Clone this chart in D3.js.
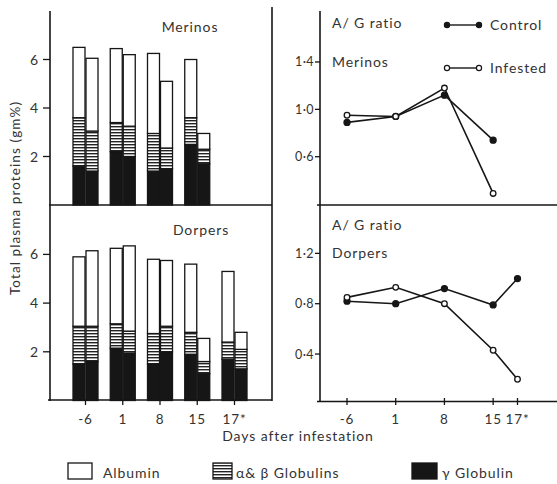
<!DOCTYPE html>
<html lang="en">
<head>
  <meta charset="UTF-8">
  <title>Plasma proteins and A/G ratio</title>
  <script src="https://cdn.jsdelivr.net/npm/d3@7/dist/d3.min.js"></script>
  <style>
    body { margin: 0; background: #fff; }
    text { font-family: Lato, "Open Sans", sans-serif; fill: #333; letter-spacing: 0.9px; }
  </style>
</head>
<body>
<script>
  // days after infestation
  const days = ['-6', '1', '8', '15', '17*'];

  // protein fractions (gm%), control / infested per day
  const merinosControlGamma = [1.6, 2.2, 1.4, 2.5];
  const merinosControlAB = [2.0, 1.2, 1.55, 1.1];
  const merinosControlAlb = [2.9, 3.05, 3.3, 2.4];
  const merinosInfGamma = [1.4, 2.0, 1.5, 1.7];
  const merinosInfAB = [1.65, 1.25, 0.85, 0.6];
  const merinosInfAlb = [3.0, 2.95, 2.75, 0.65];

  const dorpersControlGamma = [1.5, 2.15, 1.5, 1.9, 1.7];
  const dorpersControlAB = [1.55, 1.0, 1.25, 0.9, 0.7];
  const dorpersControlAlb = [2.85, 3.1, 3.05, 2.8, 2.9];
  const dorpersInfGamma = [1.6, 1.95, 2.0, 1.1, 1.3];
  const dorpersInfAB = [1.45, 0.9, 1.05, 0.5, 0.8];
  const dorpersInfAlb = [3.1, 3.5, 2.7, 0.95, 0.7];

  // A/G ratio
  const merinosAGControl = [0.89, 0.94, 1.12, 0.74];
  const merinosAGInfested = [0.95, 0.94, 1.18, 0.29];
  const dorpersAGControl = [0.82, 0.8, 0.92, 0.79, 1.0];
  const dorpersAGInfested = [0.85, 0.93, 0.8, 0.43, 0.2];

  const proteinTicks = [2, 4, 6];
  const agTicksTop = [0.6, 1.0, 1.4];
  const agTicksBottom = [0.4, 0.8, 1.2];

  const ink = '#161616';

  const svg = d3.select('body').append('svg')
    .attr('width', 557)
    .attr('height', 484);

  const defs = svg.append('defs');
  const pat = defs.append('pattern')
    .attr('id', 'hatch')
    .attr('patternUnits', 'userSpaceOnUse')
    .attr('width', 6).attr('height', 3);
  pat.append('rect').attr('width', 6).attr('height', 3).attr('fill', '#fff');
  pat.append('rect').attr('y', 0).attr('width', 6).attr('height', 1.4).attr('fill', '#222');

  // scales
  const xBar = d3.scalePoint().domain(days).range([85.5, 234.5]);
  const yTop = d3.scaleLinear().domain([0, 8]).range([205, 11]);
  const yBot = d3.scaleLinear().domain([0, 8]).range([400.5, 205.7]);

  const slot = i => i < 4 ? i : 3.5; // 17* sits half a step after 15
  const xAG = d3.scaleLinear().domain([0, 3.5]).range([347, 517.5]);
  const yAGTop = d3.scaleLinear().domain([0.2, 1.8]).range([204.1, 14.6]);
  const yAGBot = d3.scaleLinear().domain([0, 1.6]).range([404.4, 203]);

  const fmt = d => d3.format('.1f')(d).replace('.', '·');

  function line(x1, y1, x2, y2, w) {
    svg.append('line')
      .attr('x1', x1).attr('y1', y1).attr('x2', x2).attr('y2', y2)
      .attr('stroke', ink).attr('stroke-width', w || 1.6);
  }

  // frames
  line(50, 11, 50, 401);
  line(272, 7, 272, 401);
  line(49, 205, 272, 205);
  line(48, 400, 272, 400);
  line(320, 11, 320, 402);
  line(317, 205, 557, 205);
  line(317, 401.5, 557, 401.5);

  // y axes of the bar panels
  function leftAxis(y) {
    proteinTicks.forEach(t => {
      line(43, y(t), 50, y(t), 1.3);
      svg.append('text').attr('x', 39).attr('y', y(t) + 5)
        .attr('text-anchor', 'end').attr('font-size', 14).text(t);
    });
  }
  leftAxis(yTop);
  leftAxis(yBot);

  function agAxis(y, ticks) {
    ticks.forEach(t => {
      line(315, y(t), 320, y(t), 1.3);
      svg.append('text').attr('x', 314).attr('y', y(t) + 4.5)
        .attr('text-anchor', 'end').attr('font-size', 12.5)
        .style('letter-spacing', '0.4px').text(fmt(t));
    });
  }
  agAxis(yAGTop, agTicksTop);
  agAxis(yAGBot, agTicksBottom);

  // bottom x ticks
  days.forEach((d, i) => {
    line(xBar(d), 400, xBar(d), 405, 1.3);
    svg.append('text').attr('x', xBar(d)).attr('y', 424)
      .attr('text-anchor', 'middle').attr('font-size', 13.5).text(d);
    line(xAG(slot(i)), 398, xAG(slot(i)), 405, 1.3);
    svg.append('text').attr('x', xAG(slot(i))).attr('y', 424)
      .attr('text-anchor', 'middle').attr('font-size', 13.5).text(d);
  });

  svg.append('text').attr('x', 298).attr('y', 441)
    .attr('text-anchor', 'middle').attr('font-size', 14).text('Days after infestation');

  svg.append('text')
    .attr('transform', 'translate(20,198) rotate(-90)')
    .attr('text-anchor', 'middle').attr('font-size', 13.5)
    .style('letter-spacing', '1.1px')
    .text('Total plasma proteins (gm%)');

  // stacked bars
  const barW = 12;
  function bars(y, gamma, ab, alb, offset) {
    gamma.forEach((g, i) => {
      const x = xBar(days[i]) + offset;
      const segs = [
        { lo: 0, hi: g, fill: ink },
        { lo: g, hi: g + ab[i], fill: 'url(#hatch)' },
        { lo: g + ab[i], hi: g + ab[i] + alb[i], fill: '#fff' }
      ];
      segs.forEach(s => {
        svg.append('rect')
          .attr('x', x).attr('y', y(s.hi))
          .attr('width', barW).attr('height', y(s.lo) - y(s.hi))
          .attr('fill', s.fill).attr('stroke', ink).attr('stroke-width', 1.3);
      });
    });
  }
  bars(yTop, merinosControlGamma, merinosControlAB, merinosControlAlb, -12.5);
  bars(yTop, merinosInfGamma, merinosInfAB, merinosInfAlb, 0.5);
  bars(yBot, dorpersControlGamma, dorpersControlAB, dorpersControlAlb, -12.5);
  bars(yBot, dorpersInfGamma, dorpersInfAB, dorpersInfAlb, 0.5);

  svg.append('text').attr('x', 190).attr('y', 32)
    .attr('text-anchor', 'middle').attr('font-size', 14).text('Merinos');
  svg.append('text').attr('x', 201).attr('y', 235)
    .attr('text-anchor', 'middle').attr('font-size', 14).text('Dorpers');

  // A/G ratio lines
  function series(y, vals, filled) {
    const pts = vals.map((v, i) => [xAG(slot(i)), y(v)]);
    svg.append('path')
      .attr('d', d3.line()(pts))
      .attr('fill', 'none').attr('stroke', ink).attr('stroke-width', 1.6);
    svg.selectAll(null).data(pts).enter().append('circle')
      .attr('cx', p => p[0]).attr('cy', p => p[1])
      .attr('r', filled ? 3 : 2.8)
      .attr('fill', filled ? ink : '#fff')
      .attr('stroke', ink).attr('stroke-width', 1.3);
  }
  series(yAGTop, merinosAGControl, true);
  series(yAGTop, merinosAGInfested, false);
  series(yAGBot, dorpersAGControl, true);
  series(yAGBot, dorpersAGInfested, false);

  svg.append('text').attr('x', 332).attr('y', 28).attr('font-size', 14).text('A/ G ratio');
  svg.append('text').attr('x', 332).attr('y', 67).attr('font-size', 14).text('Merinos');
  svg.append('text').attr('x', 332).attr('y', 230).attr('font-size', 14).text('A/ G ratio');
  svg.append('text').attr('x', 332).attr('y', 258).attr('font-size', 14).text('Dorpers');

  // legend for lines
  [['Control', 25, true], ['Infested', 68, false]].forEach(([name, yy, filled]) => {
    line(447, yy, 479, yy, 1.4);
    [447, 479].forEach(cx => {
      svg.append('circle').attr('cx', cx).attr('cy', yy).attr('r', 2.6)
        .attr('fill', filled ? ink : '#fff').attr('stroke', ink).attr('stroke-width', 1.2);
    });
    svg.append('text').attr('x', 490).attr('y', yy + 5).attr('font-size', 14).text(name);
  });

  // legend for fractions
  const legendItems = [
    { label: 'Albumin', x: 68, w: 24, tx: 103, fill: '#fff' },
    { label: 'α& β Globulins', x: 213, w: 19, tx: 236, fill: 'url(#hatch)' },
    { label: 'γ Globulin', x: 412, w: 25, tx: 442, fill: ink }
  ];
  legendItems.forEach(d => {
    svg.append('rect').attr('x', d.x).attr('y', 463).attr('width', d.w).attr('height', 16)
      .attr('fill', d.fill).attr('stroke', ink).attr('stroke-width', 1.3);
    svg.append('text').attr('x', d.tx).attr('y', 478).attr('font-size', 14).text(d.label);
  });
</script>
</body>
</html>
